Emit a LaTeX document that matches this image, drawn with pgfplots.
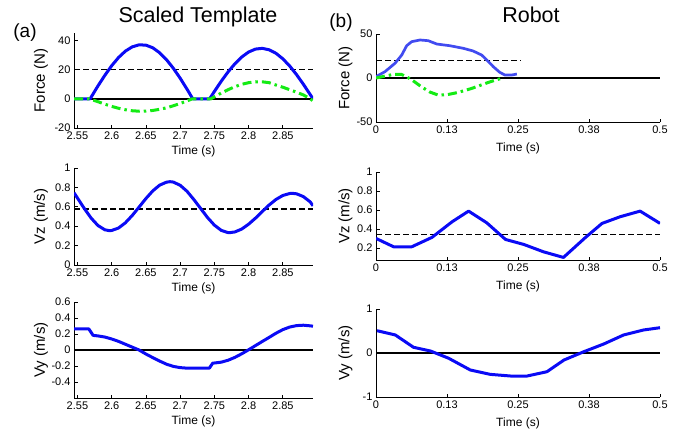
\documentclass[border=0pt]{standalone}
\usepackage{fontspec}
\setmainfont{Liberation Sans}
\usepackage{pgfplots}
\pgfplotsset{compat=1.18}

\definecolor{mblue}{RGB}{10,10,245}
\definecolor{rblue}{RGB}{65,75,240}
\definecolor{mgreen}{RGB}{20,235,20}

\pgfplotsset{
  panel/.style={
    scale only axis,
    axis x line*=bottom, axis y line*=left,
    hide obscured x ticks=false, hide obscured y ticks=false,
    axis line style={line width=0.8pt,-},
    tick align=inside,
    major tick length=3.5pt,
    tick style={line width=0.8pt,black},
    ticklabel style={font=\fontsize{11}{12}\selectfont},
    /pgf/number format/assume math mode=true,
    xlabel={Time (s)},
    xlabel style={font=\fontsize{12}{13}\selectfont,at={(axis description cs:0.5,0)},anchor=center},
    ylabel style={font=\fontsize{15}{16}\selectfont,anchor=center},
  },
  lpanel/.style={panel,width=239pt,xmin=2.545,xmax=2.894,
    xtick={2.55,2.6,2.65,2.7,2.75,2.8,2.85},
    xticklabels={2.55,2.6,2.65,2.7,2.75,2.8,2.85},
    xlabel style={yshift=-23pt},
    ylabel style={at={(axis description cs:-0.138,0.5)}}},
  rpanel/.style={panel,width=284pt,height=88pt,xmin=0,xmax=0.5,
    xtick={0,0.125,0.25,0.375,0.5},
    xticklabels={0,0.13,0.25,0.38,0.5},
    xlabel style={yshift=-26pt},
    ylabel style={at={(axis description cs:-0.107,0.5)}}},
  zline/.style={black,line width=1.6pt},
  thr/.style={black,line width=1.6pt,dash pattern=on 6pt off 3pt},
  bl/.style={mblue,line width=3pt,line join=round},
  gr/.style={mgreen,line width=3pt,dash pattern=on 9pt off 4pt on 2.5pt off 4pt},
}

\begin{document}
\begin{tikzpicture}
\path[use as bounding box] (0,0) rectangle (689pt,-432pt);

\node[font=\fontsize{21.5}{24}\selectfont] at (198pt,-17pt) {Scaled Template};
\node[font=\fontsize{21.5}{24}\selectfont] at (531pt,-15pt) {Robot};
\node[font=\fontsize{19}{22}\selectfont] at (25pt,-33pt) {(a)};
\node[font=\fontsize{19}{22}\selectfont] at (341pt,-23pt) {(b)};

% ---- left column: scaled template ----
\begin{axis}[lpanel,height=95pt,at={(74pt,-33pt)},anchor=north west,
  ymin=-20,ymax=45,ytick={-20,0,20,40},ylabel={Force (N)}]
\addplot[zline] coordinates {(2.545,0) (2.894,0)};
\addplot[thr] coordinates {(2.545,20) (2.894,20)};
\addplot[bl] coordinates {
 (2.545,0)(2.5686,0)(2.58,8.8)(2.59,16)(2.60,22.6)(2.61,28.2)(2.62,32.6)(2.63,35.5)
 (2.64,36.9)(2.65,36.7)(2.66,34.9)(2.67,31.5)(2.68,26.8)(2.69,20.9)(2.70,14.1)(2.71,6.6)
 (2.7184,0)(2.743,0)(2.75,5.0)(2.76,12.0)(2.77,18.4)(2.78,24.0)(2.79,28.6)(2.80,32.0)
 (2.81,34.0)(2.82,34.5)(2.83,33.5)(2.84,31.1)(2.85,27.3)(2.86,22.4)(2.87,16.5)(2.88,9.9)(2.894,0)};
\addplot[gr] coordinates {
 (2.545,0)(2.567,0)(2.58,-2.0)(2.59,-3.7)(2.60,-5.2)(2.61,-6.5)(2.62,-7.5)(2.63,-8.2)
 (2.64,-8.5)(2.65,-8.4)(2.66,-8.0)(2.67,-7.2)(2.68,-6.2)(2.69,-4.8)(2.70,-3.2)(2.71,-1.5)
 (2.718,0)(2.745,0)(2.75,1.3)(2.76,3.9)(2.77,6.2)(2.78,8.3)(2.79,9.9)(2.80,11.0)(2.81,11.6)
 (2.82,11.6)(2.83,11.0)(2.84,9.4)(2.85,7.9)(2.86,6.2)(2.87,4.5)(2.88,2.6)(2.89,0)(2.894,-1.5)};
\end{axis}

\begin{axis}[lpanel,height=97pt,at={(74pt,-168pt)},anchor=north west,
  ymin=0,ymax=1,ytick={0,0.2,0.4,0.6,0.8,1},ylabel={Vz (m/s)}]
\addplot[thr] coordinates {(2.545,0.58) (2.894,0.58)};
\addplot[bl] coordinates {
 (2.545,0.745)(2.55,0.691)(2.56,0.583)(2.57,0.484)(2.58,0.407)(2.59,0.363)(2.5968,0.354)
 (2.60,0.356)(2.61,0.381)(2.62,0.435)(2.63,0.510)(2.64,0.597)(2.65,0.685)(2.66,0.764)
 (2.67,0.823)(2.68,0.854)(2.6853,0.859)(2.69,0.855)(2.70,0.822)(2.71,0.760)(2.72,0.675)
 (2.73,0.582)(2.74,0.489)(2.75,0.411)(2.76,0.357)(2.77,0.334)(2.7717,0.333)(2.78,0.341)
 (2.79,0.371)(2.80,0.421)(2.81,0.483)(2.82,0.552)(2.83,0.619)(2.84,0.676)(2.85,0.717)
 (2.86,0.737)(2.8636,0.739)(2.87,0.734)(2.88,0.705)(2.89,0.65)(2.894,0.61)};
\end{axis}

\begin{axis}[lpanel,height=96pt,at={(74pt,-302pt)},anchor=north west,
  ymin=-0.6,ymax=0.6,ytick={-0.4,-0.2,0,0.2,0.4,0.6},ylabel={Vy (m/s)}]
\addplot[zline] coordinates {(2.545,0) (2.894,0)};
\addplot[bl] coordinates {
 (2.545,0.264)(2.5666,0.264)(2.5729,0.183)(2.58,0.176)(2.59,0.162)(2.60,0.138)(2.61,0.108)
 (2.62,0.072)(2.63,0.036)(2.64,0.0)(2.65,-0.05)(2.66,-0.095)(2.67,-0.138)(2.68,-0.177)
 (2.69,-0.205)(2.70,-0.22)(2.7086,-0.226)(2.7427,-0.226)(2.7475,-0.165)(2.76,-0.152)
 (2.77,-0.128)(2.78,-0.092)(2.79,-0.047)(2.80,0.003)(2.81,0.055)(2.82,0.107)(2.83,0.158)
 (2.84,0.21)(2.85,0.255)(2.86,0.287)(2.87,0.305)(2.88,0.31)(2.89,0.302)(2.894,0.298)};
\end{axis}

% ---- right column: robot ----
\begin{axis}[rpanel,at={(376pt,-34pt)},anchor=north west,
  ymin=-50,ymax=50,ytick={-50,0,50},ylabel={Force (N)}]
\addplot[zline] coordinates {(0,0) (0.5,0)};
\addplot[thr] coordinates {(0,20) (0.255,20)};
\addplot[bl,rblue,line width=2.7pt] coordinates {
 (0,1.5)(0.0158,7.2)(0.0334,16.7)(0.0452,26)(0.054,36.7)(0.0628,41.3)(0.0775,43.2)
 (0.092,42.4)(0.107,38.6)(0.130,36.7)(0.154,33.7)(0.171,30.7)(0.186,26.1)(0.195,20.5)
 (0.2065,12.9)(0.218,6.4)(0.227,3.4)(0.239,3.4)(0.248,4.5)};
\addplot[gr] coordinates {
 (0,0)(0.015,2)(0.03,4)(0.045,4)(0.055,1)(0.065,-3)(0.08,-10)(0.095,-16)(0.11,-19.5)
 (0.125,-19)(0.14,-17)(0.155,-14.5)(0.17,-11.5)(0.185,-8)(0.2,-4.5)(0.21,-2.5)(0.22,-0.5)};
\end{axis}

\begin{axis}[rpanel,at={(376pt,-172pt)},anchor=north west,
  ymin=0.075,ymax=1,ytick={0.2,0.4,0.6,0.8,1},ylabel={Vz (m/s)}]
\addplot[thr] coordinates {(0,0.345) (0.5,0.345)};
\addplot[bl] coordinates {
 (0,0.302)(0.031,0.214)(0.063,0.214)(0.0986,0.313)(0.134,0.477)(0.163,0.589)(0.195,0.466)
 (0.228,0.291)(0.260,0.239)(0.295,0.161)(0.330,0.102)(0.369,0.313)(0.398,0.46)(0.430,0.53)
 (0.465,0.589)(0.5,0.46)};
\end{axis}

\begin{axis}[rpanel,at={(376pt,-309pt)},anchor=north west,
  ymin=-1,ymax=1,ytick={-1,0,1},ylabel={Vy (m/s)}]
\addplot[zline] coordinates {(0,0) (0.5,0)};
\addplot[bl] coordinates {
 (0.0018,0.507)(0.034,0.41)(0.066,0.13)(0.096,0.045)(0.128,-0.12)(0.166,-0.386)(0.201,-0.485)
 (0.237,-0.523)(0.266,-0.523)(0.301,-0.425)(0.331,-0.159)(0.366,0.03)(0.401,0.205)
 (0.436,0.41)(0.471,0.523)(0.5,0.575)};
\end{axis}
\end{tikzpicture}
\end{document}
